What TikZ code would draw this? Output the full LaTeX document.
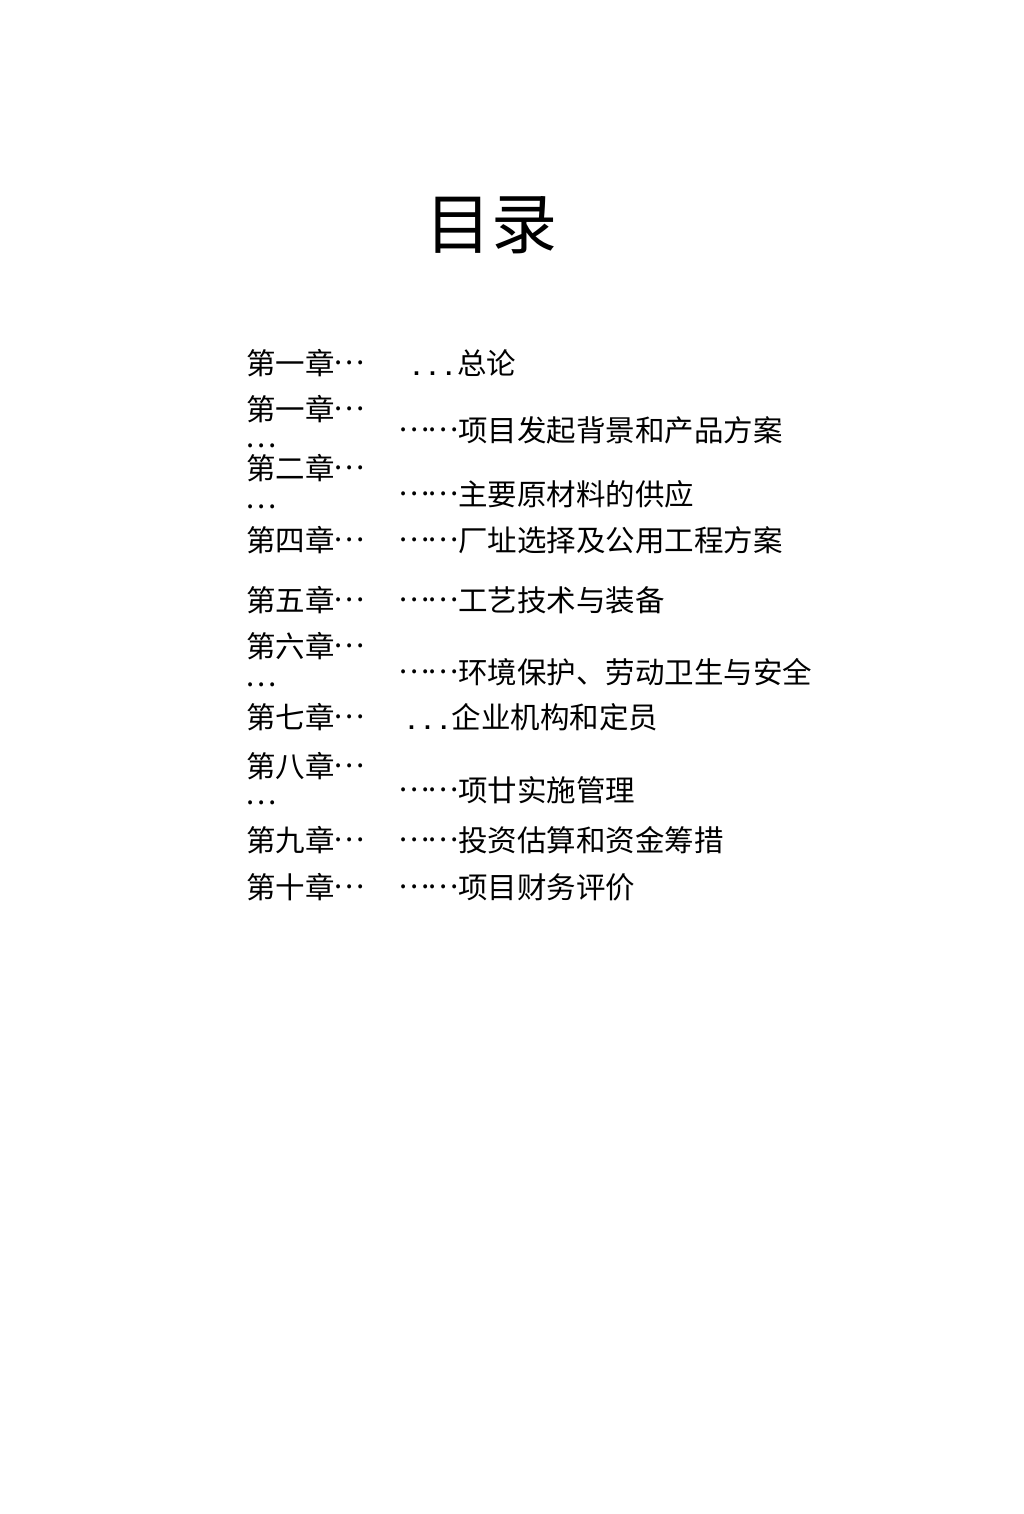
\documentclass[tikz,border=0pt]{standalone}
\usepackage{fontspec}
\setmainfont[RawFeature={+fwid}]{Noto Sans CJK SC}
\newfontfamily\latinfont{Liberation Sans}
\newcommand\entryfont{\fontsize{29.5}{29.5}\selectfont}
\newcommand\titlefont{\fontsize{66}{66}\selectfont}
\newcommand\md{\makebox[1em][c]{\raisebox{0.33em}{…}}}
\tikzset{
  txt/.style={inner sep=0pt, outer sep=0pt, anchor=base west, font=\entryfont, text=black},
  smalldots/.style={inner sep=0pt, outer sep=0pt, anchor=base west, font=\latinfont\bfseries\fontsize{25}{25}\selectfont, text=black},
  ttl/.style={inner sep=0pt, outer sep=0pt, anchor=base, font=\titlefont, text=black}
}
\begin{document}
\begin{tikzpicture}[x=1pt,y=-1pt]
\useasboundingbox[fill=white] (0,0) rectangle (1024,1514);
\node[ttl] (title) at (491,248.5) {目录};
% row 1
\node[txt] (l1) at (246,374.5) {第一章\md};
\node[smalldots] (d1) at (413,375) {. . .};
\node[txt] (r1) at (457,374.5) {总论};
% row 2
\node[txt] (l2) at (246,420.5) {第一章\md};
\node[txt] (l2b) at (246,457) {\md};
\node[txt] (r2) at (399,441.5) {\md\md 项目发起背景和产品方案};
% row 3
\node[txt] (l3) at (246,479.5) {第二章\md};
\node[txt] (l3b) at (246,518) {\md};
\node[txt] (r3) at (399,505.5) {\md\md 主要原材料的供应};
% row 4
\node[txt] (l4) at (246,551) {第四章\md};
\node[txt] (r4) at (399,551) {\md\md 厂址选择及公用工程方案};
% row 5
\node[txt] (l5) at (246,611) {第五章\md};
\node[txt] (r5) at (399,611) {\md\md 工艺技术与装备};
% row 6
\node[txt] (l6) at (246,657) {第六章\md};
\node[txt] (l6b) at (246,696) {\md};
\node[txt] (r6) at (399,683) {\md\md 环境保护、劳动卫生与安全};
% row 7
\node[txt] (l7) at (246,728.5) {第七章\md};
\node[smalldots] (d7) at (408,729) {. . .};
\node[txt] (r7) at (451.5,728.5) {企业机构和定员};
% row 8
\node[txt] (l8) at (246,777) {第八章\md};
\node[txt] (l8b) at (246,814) {\md};
\node[txt] (r8) at (399,801) {\md\md 项廿实施管理};
% row 9
\node[txt] (l9) at (246,851) {第九章\md};
\node[txt] (r9) at (399,851) {\md\md 投资估算和资金筹措};
% row 10
\node[txt] (l10) at (246,898.5) {第十章\md};
\node[txt] (r10) at (399,898.5) {\md\md 项目财务评价};
\end{tikzpicture}
\end{document}
